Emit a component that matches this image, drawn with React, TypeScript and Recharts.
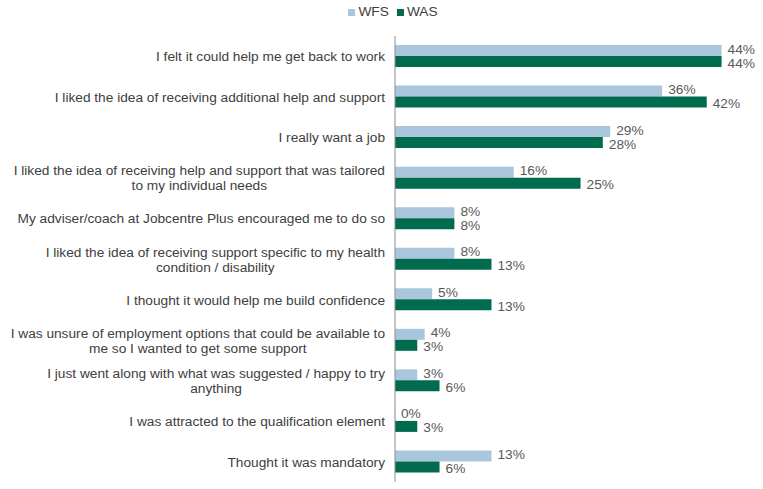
import React from "react";
import { BarChart, Bar, XAxis, YAxis, Legend, LabelList } from "recharts";

const categories = [
  "I felt it could help me get back to work",
  "I liked the idea of receiving additional help and support",
  "I really want a job",
  "I liked the idea of receiving help and support that was tailored to my individual needs",
  "My adviser/coach at Jobcentre Plus encouraged me to do so",
  "I liked the idea of receiving support specific to my health condition / disability",
  "I thought it would help me build confidence",
  "I was unsure of employment options that could be available to me so I wanted to get some support",
  "I just went along with what was suggested / happy to try anything",
  "I was attracted to the qualification element",
  "Thought it was mandatory",
];
const wfsValues = [44, 36, 29, 16, 8, 8, 5, 4, 3, 0, 13];
const wasValues = [44, 42, 28, 25, 8, 13, 13, 3, 6, 3, 6];
const seriesNames = ["WFS", "WAS"];

const data = categories.map((c, i) => ({ name: c, WFS: wfsValues[i], WAS: wasValues[i] }));

const FONT = "'Liberation Sans', Arial, sans-serif";
const FS = 13.7;
const TEXT_COLOR = "#404040";
const WFS_COLOR = "#a9c6dc";
const WAS_COLOR = "#006b4f";

let ctx: CanvasRenderingContext2D | null = null;
function measure(s: string): number {
  if (!ctx) {
    const c = document.createElement("canvas");
    ctx = c.getContext("2d");
  }
  if (!ctx) return s.length * 6;
  ctx.font = `${FS}px 'Liberation Sans'`;
  return ctx.measureText(s).width;
}
function wrap(text: string, maxW: number): string[] {
  const words = text.split(" ");
  const lines: string[] = [];
  let cur = "";
  for (const w of words) {
    const t = cur ? cur + " " + w : w;
    if (measure(t) > maxW && cur) {
      lines.push(cur);
      cur = w;
    } else cur = t;
  }
  if (cur) lines.push(cur);
  return lines;
}

const Tick = (props: any) => {
  const { x, y, payload } = props;
  const lines = wrap(payload.value, 382);
  const lh = 15;
  const start = y - ((lines.length - 1) * lh) / 2;
  const right = x - 2;
  const maxW = Math.max(...lines.map(measure));
  const cx = right - maxW / 2;
  return (
    <text x={cx} y={start} textAnchor="middle" fill={TEXT_COLOR} fontSize={FS} fontFamily={FONT} dominantBaseline="central">
      {lines.map((l, i) => (
        <tspan key={i} x={cx} y={start + i * lh}>
          {l}
        </tspan>
      ))}
    </text>
  );
};

const LegendContent = () => (
  <div
    style={{
      display: "flex",
      justifyContent: "center",
      paddingLeft: 57,
      fontFamily: FONT,
      fontSize: FS,
      color: TEXT_COLOR,
      lineHeight: "16px",
    }}
  >
    {seriesNames.map((n, i) => (
      <div key={n} style={{ display: "flex", alignItems: "center", marginRight: i === 0 ? 8 : 0 }}>
        <span style={{ display: "inline-block", width: 7, height: 7, background: i === 0 ? WFS_COLOR : WAS_COLOR, marginRight: 3 }} />
        {n}
      </div>
    ))}
  </div>
);

const makeLabel = (dy: number) => (props: any) => {
  const { x, y, width, height, value } = props;
  if (value === undefined || value === null) return null;
  const w = Number(width || 0);
  return (
    <text
      x={Number(x) + (w < 1 ? 0 : w) + 6}
      y={Number(y) + Number(height) / 2 + dy}
      fill="#595959"
      fontSize={FS}
      fontFamily={FONT}
      dominantBaseline="central"
    >
      {`${value}%`}
    </text>
  );
};

export default function App() {
  return (
    <div style={{ position: "absolute", left: 0, top: 0, background: "#fff" }}>
      <BarChart
        width={763}
        height={489}
        data={data}
        layout="vertical"
        margin={{ top: 4, right: 34, bottom: 7, left: 0 }}
        barSize={11}
        barGap={0}
      >
        <Legend verticalAlign="top" height={32} content={<LegendContent />} />
        <XAxis type="number" domain={[0, 45]} hide allowDataOverflow />
        <YAxis
          type="category"
          dataKey="name"
          width={395}
          tickLine={false}
          axisLine={{ stroke: "#8c8c8c" }}
          tick={<Tick />}
          interval={0}
        />
        <Bar dataKey="WFS" fill={WFS_COLOR} isAnimationActive={false} minPointSize={0.3}>
          <LabelList dataKey="WFS" content={makeLabel(-1.5)} />
        </Bar>
        <Bar dataKey="WAS" fill={WAS_COLOR} isAnimationActive={false}>
          <LabelList dataKey="WAS" content={makeLabel(1.5)} />
        </Bar>
      </BarChart>
    </div>
  );
}
